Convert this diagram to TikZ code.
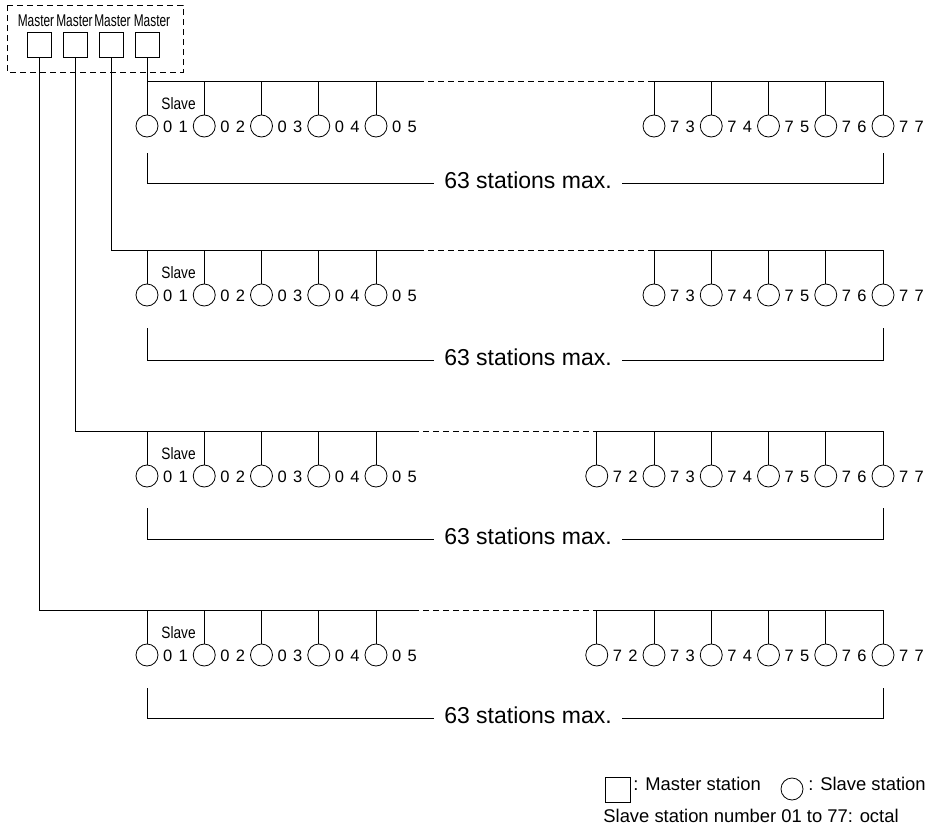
\documentclass[tikz,border=0pt]{standalone}
\usepackage{fontspec}
\setmainfont{Liberation Sans}
\begin{document}
\begin{tikzpicture}[x=1pt,y=-1pt,line width=0.8pt,
  ln/.style={line width=0.8pt,draw=black},
  slv/.style={circle,draw,line width=0.8pt,minimum size=22pt,inner sep=0pt},
  mst/.style={rectangle,draw,line width=0.8pt,minimum width=24pt,minimum height=25pt,inner sep=0pt},
  num/.style={anchor=base west,inner sep=0pt,font=\fontsize{16.5}{18}\selectfont},
  slvtxt/.style={anchor=base west,inner sep=0pt,font=\fontsize{16.5}{18}\selectfont},
  msttxt/.style={anchor=base,inner sep=0pt,font=\fontsize{17}{18}\selectfont},
  maxtxt/.style={inner ysep=0pt,inner xsep=10pt,font=\fontsize{23}{26}\selectfont},
  legtxt/.style={anchor=base west,inner sep=0pt,font=\fontsize{18.4}{20}\selectfont},
  dsh/.style={dash pattern=on 6pt off 4pt}
]
\useasboundingbox (0,0) rectangle (932,827);

% master group
\draw[ln,dsh] (7,5) rectangle (183,72);
\foreach \i/\mx/\tx in {1/39/36,2/75/74.5,3/111/112.5,4/147/152}{
  \node[msttxt] (ml\i) at (\tx,27) {\scalebox{0.7}[1]{Master}};
  \node[mst] (m\i) at (\mx,44.5) {};
}

% rows
\foreach \r/\by/\mi/\bt/\bb/\fr in {1/81/4/153/183/3, 2/250/3/328/360/3, 3/431/2/508/539/2, 4/610/1/688/718/2}{
  \coordinate (bs\r) at (m\mi.south |- {0,\by});
  \coordinate (bd\r) at ({\ifnum\fr=3 418\else 413\fi},\by);
  \coordinate (be\r) at (883,\by);
  \draw[ln] (m\mi.south) -- (bs\r);
  % left slaves
  \foreach \k in {1,...,5}{
    \node[slv] (s\r-0\k) at ({147+57.25*(\k-1)},\by+45) {};
    \node[num] (n\r-0\k) at ([xshift=15.6pt,yshift=-6pt]s\r-0\k.center) {0\hspace{6.4pt}\k};
    \draw[ln] (s\r-0\k.north) -- (s\r-0\k.north |- bs\r);
  }
  \node[slvtxt] (sl\r) at (161,\by+28) {\scalebox{0.83}[1]{Slave}};
  % right slaves
  \foreach \k in {\fr,...,7}{
    \node[slv] (s\r-7\k) at ({883-57.25*(7-\k)},\by+45) {};
    \node[num] (n\r-7\k) at ([xshift=15.6pt,yshift=-6pt]s\r-7\k.center) {7\hspace{6.4pt}\k};
    \draw[ln] (s\r-7\k.north) -- (s\r-7\k.north |- bs\r);
  }
  % bus
  \draw[ln] (bs\r) -- (bd\r);
  \draw[ln,dsh] (bd\r) -- (s\r-7\fr.north |- bs\r);
  \draw[ln] (s\r-7\fr.north |- bs\r) -- (be\r);
  % bracket
  \coordinate (bl\r) at (147,\bt);
  \coordinate (br\r) at (883,\bt);
  \coordinate (hb\r) at (0,\bb);
  \node[maxtxt] (t\r) at (528,\bb-2.5) {63 stations max.};
  \draw[ln] (bl\r) |- (t\r.west |- hb\r);
  \draw[ln] (t\r.east |- hb\r) -| (br\r);
}

% legend
\node[mst,minimum width=25pt] (lm) at (617.5,789.5) {};
\node[legtxt] (lmt) at (633,790) {: Master station};
\node[slv] (lsc) at (792,789) {};
\node[legtxt] (lst) at (808,790) {: Slave station};
\node[legtxt] (lnote) at (603,822) {Slave station number 01 to 77: octal};
\end{tikzpicture}
\end{document}
